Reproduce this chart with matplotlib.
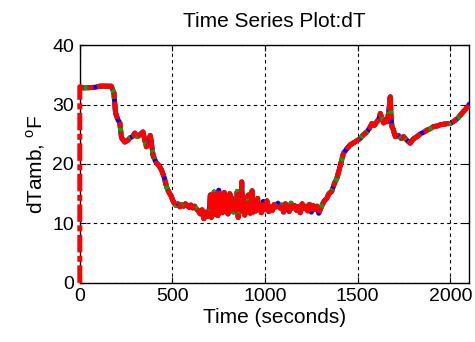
import matplotlib
matplotlib.use("Agg")
import matplotlib.pyplot as plt

plt.rcParams['font.family'] = ['Liberation Sans', 'DejaVu Sans']
plt.rcParams['mathtext.fontset'] = 'custom'
plt.rcParams['mathtext.rm'] = 'Liberation Sans'

title = "Time Series Plot:dT"
xlabel = "Time (seconds)"
ylabel = r"dTamb, $^{\mathrm{o}}$F"

t_start = [0, 20, 80, 110, 170, 184, 193, 205, 216, 225, 243, 260, 270, 285, 297,
           310, 324, 341, 351, 360, 370, 380, 387, 395, 405, 414, 430, 441, 455,
           468, 480, 495]
v_start = [33.0, 32.8, 32.9, 33.1, 33.1, 32.0, 28.6, 27.5, 26.9, 24.4, 23.7, 24.0,
           24.4, 24.6, 25.2, 24.6, 24.9, 25.4, 24.0, 22.9, 23.3, 24.8, 23.5, 21.5,
           20.7, 20.2, 19.6, 19.0, 17.8, 16.2, 15.3, 14.5]

t_mid = [500, 510, 520, 530, 540, 550, 560, 570, 580, 590, 600, 610, 620, 630, 640,
         650, 660, 670, 680, 690, 700, 705, 710, 720, 725, 730, 740, 745, 750, 760,
         765, 770, 780, 790, 795, 800, 810, 815, 820, 830, 840, 845, 850, 855, 860,
         870, 874, 878, 885, 890, 900, 905, 910, 920, 925, 930, 935, 945, 950, 960,
         965, 970, 980, 990, 1000, 1010, 1020, 1030, 1040, 1050, 1060, 1070, 1080,
         1090, 1100, 1110, 1120, 1130, 1140, 1150, 1160, 1170, 1180, 1190, 1200,
         1210, 1220, 1230, 1240, 1250, 1260, 1270, 1280, 1290, 1300, 1310, 1320, 1333]
v_mid = [14.0, 13.4, 13.0, 13.3, 12.8, 13.2, 12.9, 13.3, 13.0, 12.7, 13.1, 12.6,
         12.9, 12.4, 12.1, 11.6, 12.3, 10.8, 11.9, 11.2, 12.5, 14.8, 11.0, 13.5,
         15.3, 11.5, 14.0, 11.3, 15.6, 12.0, 14.6, 11.8, 15.2, 12.3, 14.1, 11.6,
         15.0, 12.0, 14.3, 11.9, 13.8, 12.2, 15.4, 11.0, 13.6, 12.4, 17.0, 12.0,
         14.5, 11.4, 13.9, 12.2, 14.8, 11.7, 13.2, 15.5, 11.9, 13.5, 12.1, 14.2,
         12.5, 13.0, 11.8, 13.7, 12.3, 13.8, 12.0, 12.9, 12.2, 13.2, 12.8, 13.4,
         12.6, 13.1, 11.9, 13.3, 12.7, 12.0, 13.4, 12.6, 13.0, 12.2, 12.8, 11.8,
         13.3, 12.5, 12.9, 12.1, 13.2, 11.9, 13.0, 12.4, 12.9, 11.7, 12.5, 13.2,
         13.8, 14.2]

t_end = [1345, 1360, 1375, 1387, 1400, 1414, 1423, 1440, 1459, 1480, 1500, 1514,
         1530, 1550, 1565, 1577, 1590, 1604, 1615, 1622, 1630, 1640, 1650, 1658,
         1665, 1670, 1676, 1680, 1685, 1692, 1703, 1720, 1735, 1748, 1765, 1784,
         1800, 1820, 1840, 1860, 1874, 1890, 1910, 1930, 1946, 1965, 1985, 2000,
         2020, 2040, 2054, 2070, 2085, 2099]
v_end = [15.0, 15.4, 16.8, 17.5, 19.0, 20.7, 21.8, 22.5, 23.2, 23.6, 24.0, 24.3,
         24.9, 25.4, 26.1, 26.8, 26.5, 27.1, 27.6, 28.5, 27.8, 26.9, 27.5, 27.1,
         28.2, 29.5, 31.3, 28.0, 26.3, 25.8, 24.6, 24.8, 24.3, 24.6, 24.0, 23.5,
         24.2, 24.6, 25.1, 25.4, 25.7, 25.9, 26.3, 26.4, 26.6, 26.7, 26.8, 26.8,
         27.2, 27.7, 28.2, 28.8, 29.3, 29.9]

time = t_start + t_mid + t_end
dT = v_start + v_mid + v_end
red_time = [0] + time
red_dT = [0] + dT

xticks = [0, 500, 1000, 1500, 2000]
yticks = [0, 10, 20, 30, 40]

fig = plt.figure(figsize=(4.75, 3.42), dpi=100)
ax = fig.add_axes([0.168, 0.173, 0.819, 0.695])

ax.plot(time, dT, color='#0000ff', lw=3.6, solid_joinstyle='round', zorder=3)
ax.plot(time, dT, color='#00aa00', lw=3.6, dashes=[2, 1.5], zorder=4)
ax.plot(red_time, red_dT, color='#ff0000', lw=3.6, dashes=[3.5, 0.7, 1.2, 0.7],
        zorder=5, clip_on=False)

ax.set_xlim(0, 2100)
ax.set_ylim(0, 40)
ax.set_xticks(xticks)
ax.set_yticks(yticks)
ax.grid(True, color='black', linestyle=(0, (3, 3)), linewidth=0.8)
ax.tick_params(direction='in', top=True, right=True, labelsize=14, length=4, pad=4)
for s in ax.spines.values():
    s.set_linewidth(1.0)
ax.set_xlabel(xlabel, fontsize=15, labelpad=2)
ax.set_ylabel(ylabel, fontsize=15, labelpad=4)
ax.set_title(title, fontsize=15, pad=13)

fig.savefig("out.png", dpi=100)
